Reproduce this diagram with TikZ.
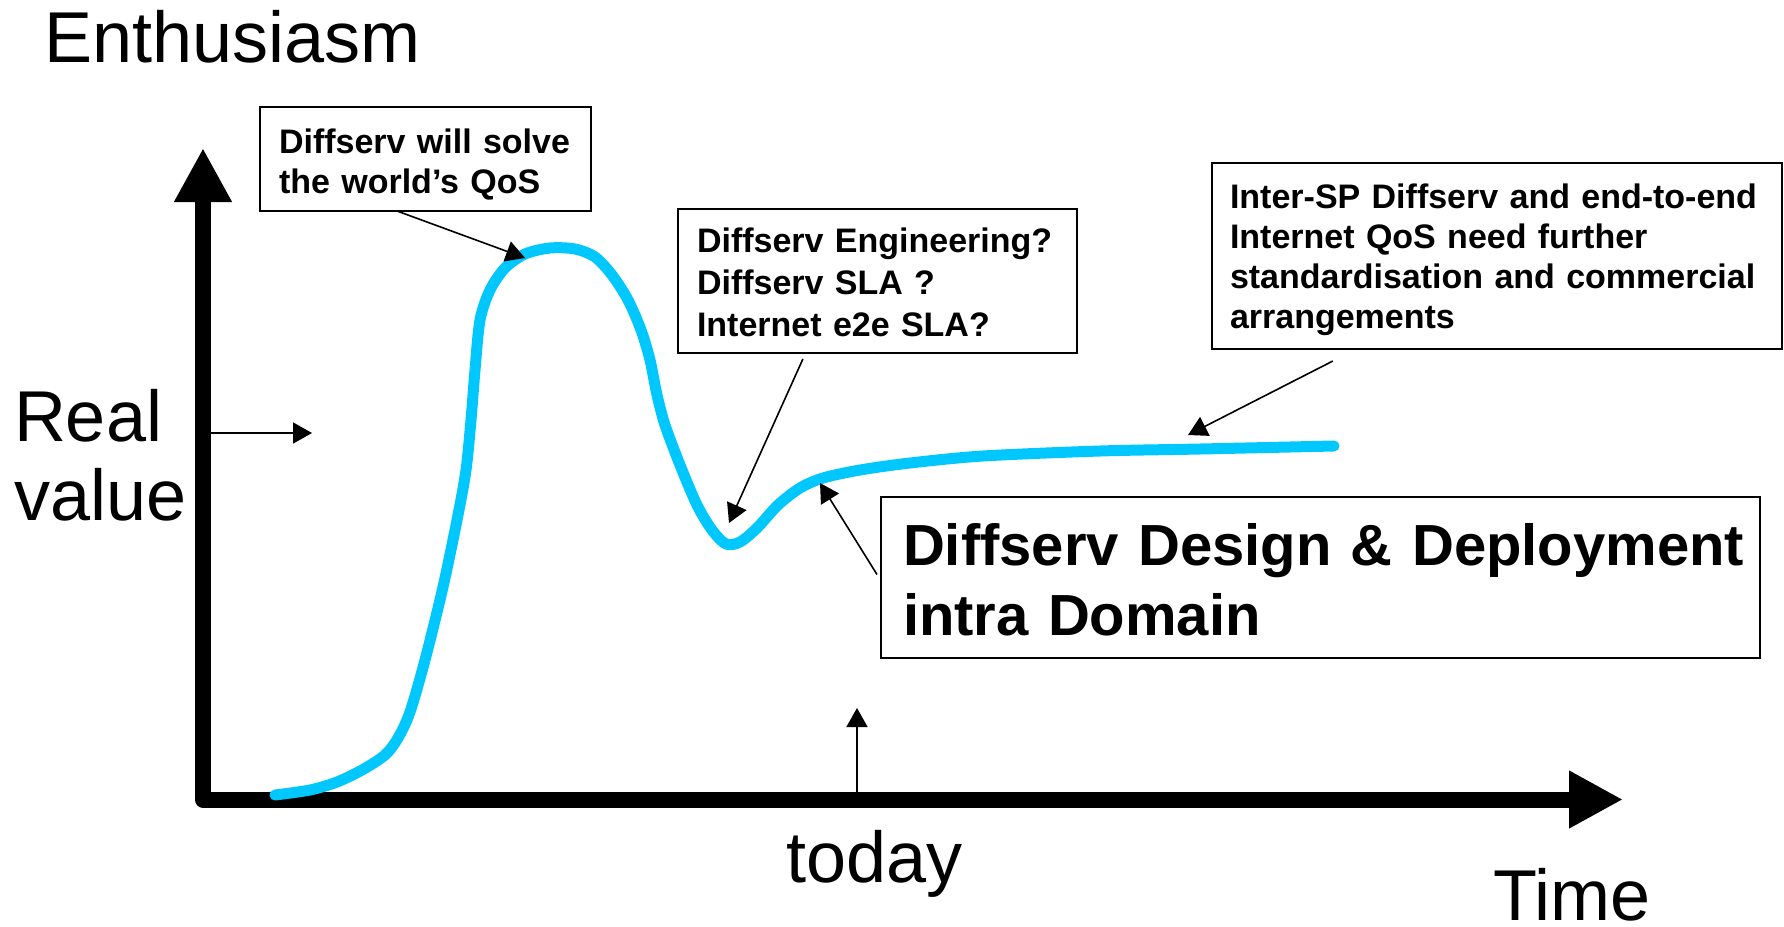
\documentclass[tikz,border=0pt]{standalone}
\usepackage{fontspec}
\setmainfont{Liberation Sans}
\usetikzlibrary{arrows.meta,calc}
\definecolor{hypecyan}{RGB}{0,200,255}

\begin{document}
\begin{tikzpicture}[x=1pt,y=-1pt,
  axis/.style={line width=16pt, line join=round,
    {Triangle[length=54pt,width=54pt]}-{Triangle[length=54pt,width=54pt]}},
  pointer/.style={line width=1.6pt, -{Triangle[length=19pt,width=21pt]}},
  hype/.style={hypecyan, line width=11pt, line cap=round, line join=round},
  lbl/.style={font=\fontsize{72}{79}\selectfont, inner sep=0pt, outer sep=0pt},
  callout/.style={draw, line width=1.8pt, anchor=north west, align=left,
    outer sep=0pt, font=\bfseries\fontsize{34}{40}\selectfont},
]
\useasboundingbox (0,0) rectangle (1784,926);

% axes
\coordinate (ytip) at (203,148);
\coordinate (origin) at (203,799.5);
\coordinate (xtip) at (1623,799.5);
\draw[axis] (ytip) -- (origin) -- (xtip);

% axis labels
\node[lbl, anchor=base west] (enth) at (44,62) {Enthusiasm};
\node[lbl, anchor=north west, text width=200pt, align=left, text height=52pt]
  (realv) at (14,389) {Real\\value};
\node[lbl, anchor=base west] (today) at (786,882) {today};
\node[lbl, anchor=base west] (time) at (1493,920) {Time};

% hype curve
\draw[hype] plot[smooth, tension=0.5] coordinates {
  (275,795) (310,790) (337,782) (362,770) (385,755) (398,738) (410,712)
  (425,660) (443,587) (458,515) (466,470) (471,420) (475,370) (480,320)
  (490,290) (505,268) (525,254) (550,248) (575,249) (595,257) (612,275)
  (628,300) (641,330) (650,360) (657,395) (665,425) (680,465) (697,505)
  (712,530) (726,544) (740,542) (757,528) (778,505) (800,488) (823,478)
  (860,470) (910,463) (983,456) (1100,451) (1200,449) (1334,446)};

% points on the curve the callouts refer to
\coordinate (peakpt) at (525,258);
\coordinate (dippt) at (729,523);
\coordinate (risept) at (820,483);
\coordinate (platpt) at (1188,435);

% real value and today markers
\coordinate (rvfoot) at (211,433);
\coordinate (rvtip) at (312,433);
\draw[pointer] (rvfoot) -- (rvtip);
\coordinate (tdfoot) at (857,792);
\coordinate (tdtip) at (857,708);
\draw[pointer] (tdfoot) -- (tdtip);

% callout boxes
\node[callout, inner xsep=19pt, inner ysep=21pt, text width=293pt,
  text height=25pt, text depth=37pt] (b1) at (260,107)
  {\mbox{Diffserv will solve}\\\mbox{the world’s QoS}};
\node[callout, inner xsep=19pt, inner ysep=18pt, text width=361pt,
  text height=25pt, text depth=83pt,
  font=\bfseries\fontsize{34}{42}\selectfont] (b2) at (678,209)
  {\mbox{Diffserv Engineering?}\\\mbox{Diffserv SLA ?}\\\mbox{Internet e2e SLA?}};
\node[callout, inner xsep=18pt, inner ysep=20pt, text width=534pt,
  text height=25pt, text depth=121pt] (b3) at (1212,163)
  {\mbox{Inter-SP Diffserv and end-to-end}\\\mbox{Internet QoS need further}\\\mbox{standardisation and commercial}\\\mbox{arrangements}};
\node[callout, inner xsep=22pt, inner ysep=25pt, text width=835pt,
  text height=43pt, text depth=68pt,
  font=\bfseries\fontsize{58}{70}\selectfont] (b4) at (881,497)
  {\mbox{Diffserv Design \& Deployment}\\\mbox{intra Domain}};

% callout pointers
\draw[pointer] ($(b1.south west)!0.414!(b1.south east)$) -- (peakpt);
\draw[pointer] ($(b2.south west)!0.313!(b2.south east)+(0,6)$) -- (dippt);
\draw[pointer] ($(b3.south west)!0.212!(b3.south east)+(0,12)$) -- (platpt);
\draw[pointer] ($(b4.west)+(-4,-3)$) -- (risept);
\end{tikzpicture}
\end{document}
